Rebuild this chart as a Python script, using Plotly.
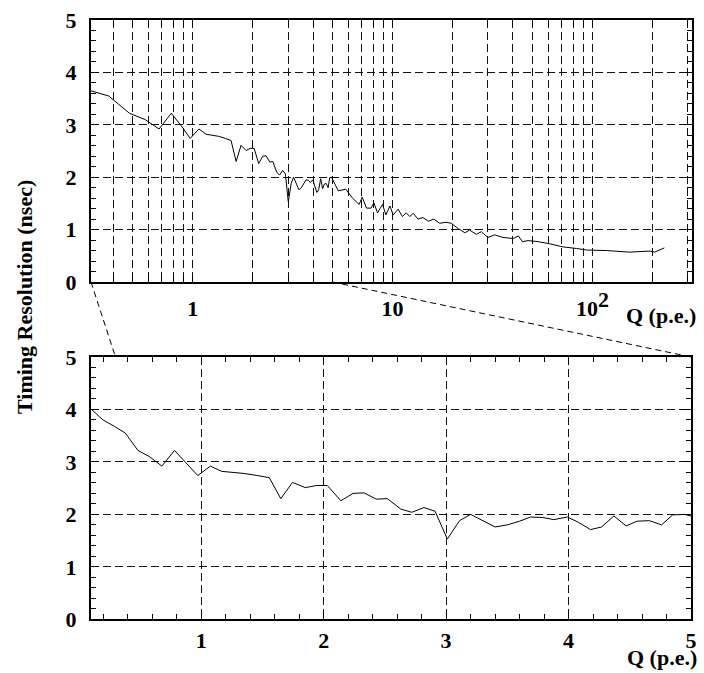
import math
import plotly.graph_objects as go

# ---------------- data ----------------
q_low = [0.10, 0.198, 0.29, 0.38, 0.483, 0.578, 0.679, 0.782, 0.877, 0.972,
         1.075, 1.168, 1.26, 1.35, 1.46, 1.556, 1.65, 1.746, 1.85, 1.94,
         2.03, 2.14, 2.24, 2.33, 2.43, 2.52, 2.63, 2.72, 2.82, 2.91,
         3.01, 3.11, 3.20, 3.30, 3.40, 3.50, 3.60, 3.69, 3.79, 3.88,
         3.99, 4.08, 4.18, 4.27, 4.37, 4.47, 4.56, 4.66, 4.76, 4.85, 4.95]
sigma_low = [4.01, 3.80, 3.68, 3.55, 3.22, 3.10, 2.92, 3.22, 2.98, 2.74,
             2.92, 2.82, 2.80, 2.78, 2.74, 2.70, 2.30, 2.61, 2.51, 2.55,
             2.55, 2.26, 2.40, 2.41, 2.29, 2.30, 2.10, 2.04, 2.13, 2.06,
             1.53, 1.88, 2.00, 1.88, 1.76, 1.80, 1.87, 1.95, 1.94, 1.90,
             1.95, 1.85, 1.71, 1.76, 1.97, 1.78, 1.87, 1.88, 1.80, 1.99, 2.00]
q_high = [5.35, 5.84, 6.31, 6.81, 7.05, 7.41, 7.8, 8.07, 8.41, 8.91,
          9.26, 9.7, 10.08, 10.66, 11.2, 11.7, 12.2, 12.7, 13.4, 14.2,
          15.1, 16.1, 17.2, 18.5, 19.7, 21.3, 23.0, 24.3, 26.3, 27.8,
          30.0, 32.4, 35.7, 40.2, 42.6, 44.7, 47.7, 53.5, 61.0, 71.2,
          83.2, 93.5, 117.6, 153.4, 193.5, 205, 229]
sigma_high = [1.74, 1.77, 1.60, 1.48, 1.62, 1.41, 1.41, 1.51, 1.32, 1.48,
              1.28, 1.45, 1.28, 1.39, 1.25, 1.32, 1.25, 1.31, 1.20, 1.23,
              1.16, 1.20, 1.12, 1.14, 1.12, 1.02, 0.94, 0.99, 0.91, 0.96,
              0.85, 0.90, 0.85, 0.83, 0.88, 0.77, 0.79, 0.77, 0.73, 0.67,
              0.64, 0.61, 0.60, 0.57, 0.59, 0.57, 0.65]

log_tick_vals = [1, 10, 100]
log_tick_text = ["1", "10", "10<sup><span style='font-size:22px'>2</span></sup>"]
lin_tick_vals = [1, 2, 3, 4, 5]
y_tick_vals = [0, 1, 2, 3, 4, 5]
x_title = "Q (p.e.)"
y_title = "Timing Resolution (nsec)"

q_all = q_low + q_high
sigma_all = sigma_low + sigma_high

# ---------------- layout geometry ----------------
W, H = 704, 673
TOP_X = [91 / W, 692 / W]
TOP_Y = [1 - 282 / H, 1 - 20 / H]
BOT_X = [91 / W, 691 / W]
BOT_Y = [1 - 619.3 / H, 1 - 357 / H]
TOP_RANGE = [math.log10(0.31), math.log10(315)]
BOT_RANGE = [0.1, 5.0]

FONT = dict(family="Liberation Serif, Times New Roman, serif", size=22, color="black", weight="bold")
GRID = dict(showgrid=True, gridcolor="#111", gridwidth=1, griddash="8px,4px")
LINE = dict(showline=True, linecolor="black", linewidth=2, mirror="ticks", zeroline=False,
            automargin=False)

fig = go.Figure()
fig.add_trace(go.Scatter(x=q_all, y=sigma_all, mode="lines", xaxis="x", yaxis="y",
                         line=dict(color="black", width=1), showlegend=False))
fig.add_trace(go.Scatter(x=q_all, y=sigma_all, mode="lines", xaxis="x2", yaxis="y2",
                         line=dict(color="black", width=1), showlegend=False))

fig.update_layout(
    width=W, height=H, autosize=False,
    margin=dict(l=0, r=0, t=0, b=0, pad=0, autoexpand=False),
    paper_bgcolor="white", plot_bgcolor="white",
    xaxis=dict(domain=TOP_X, anchor="y", type="log", range=TOP_RANGE,
               tickmode="array", tickvals=log_tick_vals, ticktext=log_tick_text,
               ticks="inside", ticklen=6, tickcolor="black", tickfont=FONT,
               ticklabelstandoff=6,
               minor=dict(dtick="D1", ticks="inside", ticklen=6, tickcolor="black",
                          showgrid=True, gridcolor="#111", gridwidth=1, griddash="8px,4px"),
               **GRID, **LINE),
    yaxis=dict(domain=TOP_Y, anchor="x", range=[0, 5], tickmode="array", tickvals=y_tick_vals,
               ticks="inside", ticklen=8, tickcolor="black", tickfont=FONT,
               ticklabelstandoff=8,
               minor=dict(dtick=0.2, tick0=0, ticks="inside", ticklen=5, tickcolor="black", showgrid=False),
               **GRID, **LINE),
    xaxis2=dict(domain=BOT_X, anchor="y2", range=BOT_RANGE, tickmode="array", tickvals=lin_tick_vals,
                ticks="inside", ticklen=8, tickcolor="black", tickfont=FONT,
                ticklabelstandoff=0,
                minor=dict(dtick=0.2, tick0=0, ticks="inside", ticklen=5, tickcolor="black", showgrid=False),
                **GRID, **LINE),
    yaxis2=dict(domain=BOT_Y, anchor="x2", range=[0, 5], tickmode="array", tickvals=y_tick_vals,
                ticks="inside", ticklen=8, tickcolor="black", tickfont=FONT,
                ticklabelstandoff=8,
                minor=dict(dtick=0.2, tick0=0, ticks="inside", ticklen=5, tickcolor="black", showgrid=False),
                **GRID, **LINE),
)


def top_paper_x(q):
    f = (math.log10(q) - TOP_RANGE[0]) / (TOP_RANGE[1] - TOP_RANGE[0])
    return TOP_X[0] + f * (TOP_X[1] - TOP_X[0])


def bot_paper_x(q):
    f = (q - BOT_RANGE[0]) / (BOT_RANGE[1] - BOT_RANGE[0])
    return BOT_X[0] + f * (BOT_X[1] - BOT_X[0])


# zoom connector lines
for qa, qb in [(0.31, 0.30), (5.0, 5.0)]:
    fig.add_shape(type="line", xref="paper", yref="paper",
                  x0=top_paper_x(qa), y0=TOP_Y[0], x1=bot_paper_x(qb), y1=BOT_Y[1],
                  line=dict(color="black", width=1, dash="6px,4px"))

fig.add_annotation(text=x_title, xref="paper", yref="paper", x=698 / W, y=1 - 315 / H,
                   xanchor="right", yanchor="middle", showarrow=False, font=FONT)
fig.add_annotation(text=x_title, xref="paper", yref="paper", x=699 / W, y=1 - 657 / H,
                   xanchor="right", yanchor="middle", showarrow=False, font=FONT)
fig.add_annotation(text=y_title, xref="paper", yref="paper", x=24 / W, y=1 - 297 / H,
                   xanchor="center", yanchor="middle", textangle=-90, showarrow=False, font=FONT)

fig.write_html("out.html")
